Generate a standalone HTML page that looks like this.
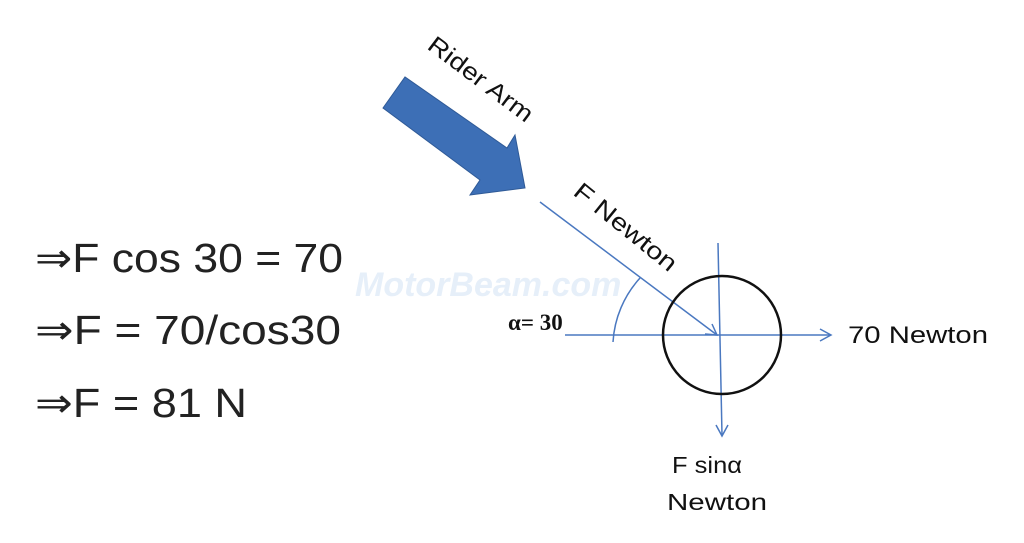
<!DOCTYPE html>
<html><head><meta charset="utf-8"><style>html,body{margin:0;padding:0;background:#fff}svg{display:block}</style></head>
<body>
<svg width="1024" height="543" viewBox="0 0 1024 543" xmlns="http://www.w3.org/2000/svg">
<rect width="1024" height="543" fill="#fff"/>
<text x="355" y="296" font-family="Liberation Sans, sans-serif" font-weight="bold" font-style="italic" font-size="34" fill="#e6eff9">MotorBeam.com</text>
<polygon points="383,108 405,77 507,148 515,135 525,188 470,195 480,180" fill="#3d6fb6" stroke="#2f5a97" stroke-width="1"/>
<text transform="translate(426,48) rotate(37)" font-family="Liberation Sans, sans-serif" font-size="24" fill="#111" textLength="125" lengthAdjust="spacingAndGlyphs">Rider Arm</text>
<text transform="translate(572,194) rotate(39)" font-family="Liberation Sans, sans-serif" font-size="24" fill="#111" textLength="125" lengthAdjust="spacingAndGlyphs">F Newton</text>
<g stroke="#4a78c0" stroke-width="1.5" fill="none">
<line x1="540" y1="202" x2="717" y2="335"/>
<polyline points="705,334 717,335 712,324"/>
<line x1="565" y1="335" x2="830" y2="335"/>
<polyline points="820,329 831,335 820,341"/>
<line x1="718" y1="243" x2="722" y2="435"/>
<polyline points="716,425 722,436 728,425"/>
<path d="M613,342 A104,104 0 0 1 640,278"/>
</g>
<circle cx="722" cy="335" r="59" fill="none" stroke="#111" stroke-width="2.5"/>
<text x="508" y="330" font-family="Liberation Serif, serif" font-weight="bold" font-size="23" fill="#111">α= 30</text>
<text x="848" y="343" font-family="Liberation Sans, sans-serif" font-size="24" fill="#111" textLength="140" lengthAdjust="spacingAndGlyphs">70 Newton</text>
<text x="672" y="473" font-family="Liberation Sans, sans-serif" font-size="23" fill="#111" textLength="70" lengthAdjust="spacingAndGlyphs">F sinα</text>
<text x="667" y="510" font-family="Liberation Sans, sans-serif" font-size="23" fill="#111" textLength="100" lengthAdjust="spacingAndGlyphs">Newton</text>
<g font-family="Liberation Sans, DejaVu Sans, sans-serif" font-size="41" fill="#222">
<text x="35" y="272" textLength="308" lengthAdjust="spacingAndGlyphs">⇒F cos 30 = 70</text>
<text x="35" y="344" textLength="306" lengthAdjust="spacingAndGlyphs">⇒F = 70/cos30</text>
<text x="35" y="417" textLength="212" lengthAdjust="spacingAndGlyphs">⇒F = 81 N</text>
</g>
</svg>
</body></html>
